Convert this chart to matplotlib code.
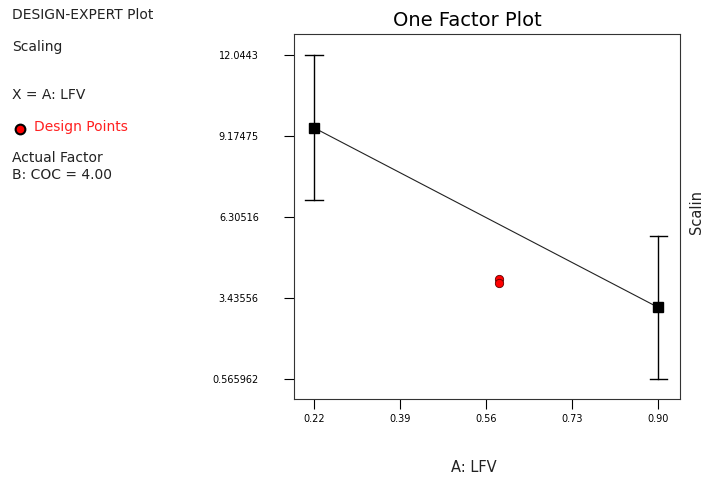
import matplotlib
matplotlib.use("Agg")
import matplotlib.pyplot as plt

# Data
x_levels = [0.22, 0.90]
predicted = [9.465, 3.095]
ci_low = [6.89, 0.566]
ci_high = [12.0443, 5.635]
design_x = [0.585, 0.585]
design_y = [4.12, 3.95]
xticks = [0.22, 0.39, 0.56, 0.73, 0.90]
xtick_labels = ["0.22", "0.39", "0.56", "0.73", "0.90"]
yticks = [0.565962, 3.43556, 6.30516, 9.17475, 12.0443]
ytick_labels = ["0.565962", "3.43556", "6.30516", "9.17475", "12.0443"]

plt.rcParams['font.family'] = ['DejaVu Sans']
W, H = 711, 480
fig = plt.figure(figsize=(W / 100, H / 100), dpi=100)
ax = fig.add_axes([293.5 / W, 1 - 399 / H, (680 - 293.5) / W, (399 - 34) / H])

ax.plot(x_levels, predicted, color='#222222', lw=0.8, zorder=2)
for xv, lo, hi in zip(x_levels, ci_low, ci_high):
    ax.plot([xv, xv], [lo, hi], color='black', lw=1.0, zorder=2)
    ax.plot([xv - 0.017, xv + 0.017], [lo, lo], color='black', lw=1.0)
    ax.plot([xv - 0.017, xv + 0.017], [hi, hi], color='black', lw=1.0)
ax.plot(x_levels, predicted, 's', color='black', ms=7.5, zorder=3)
ax.plot(design_x, design_y, 'o', mfc='red', mec='#600000', mew=0.6, ms=6, zorder=4)

ax.set_xlim(0.1795, 0.9429)
ax.set_ylim(-0.15, 12.79)
ax.set_xticks(xticks)
ax.set_xticklabels(xtick_labels)
ax.set_yticks(yticks)
ax.set_yticklabels(ytick_labels)
ax.tick_params(axis='y', direction='out', length=7, width=0.8, pad=18, labelsize=7)
ax.tick_params(axis='x', direction='out', length=7, width=0.8, pad=4, labelsize=7)
for s in ax.spines.values():
    s.set_linewidth(0.8)
    s.set_color('#333333')

fig.text(467 / W, 1 - 20 / H, "One Factor Plot", ha='center', va='center', fontsize=14)
fig.text(474 / W, 1 - 467 / H, "A: LFV", ha='center', va='center', fontsize=10.5, color='#222222')
fig.text(697 / W, 1 - 212 / H, "Scalin", ha='center', va='center', rotation=90, fontsize=10.5, color='#222222')

lx = 12 / W
fs = 10
fig.text(lx, 1 - 15 / H, "DESIGN-EXPERT Plot", ha='left', va='center', fontsize=fs, color='#222222')
fig.text(lx, 1 - 47 / H, "Scaling", ha='left', va='center', fontsize=fs, color='#222222')
fig.text(lx, 1 - 95 / H, "X = A: LFV", ha='left', va='center', fontsize=fs, color='#222222')
fig.lines.append(plt.Line2D([20 / W], [1 - 129 / H], marker='o', mfc='red', mec='black',
                            mew=1.5, ms=7, transform=fig.transFigure))
fig.text(34 / W, 1 - 127 / H, "Design Points", ha='left', va='center', fontsize=fs, color='#ff2020')
fig.text(lx, 1 - 158 / H, "Actual Factor", ha='left', va='center', fontsize=fs, color='#222222')
fig.text(lx, 1 - 175 / H, "B: COC = 4.00", ha='left', va='center', fontsize=fs, color='#222222')

fig.savefig("out.png", dpi=100)
